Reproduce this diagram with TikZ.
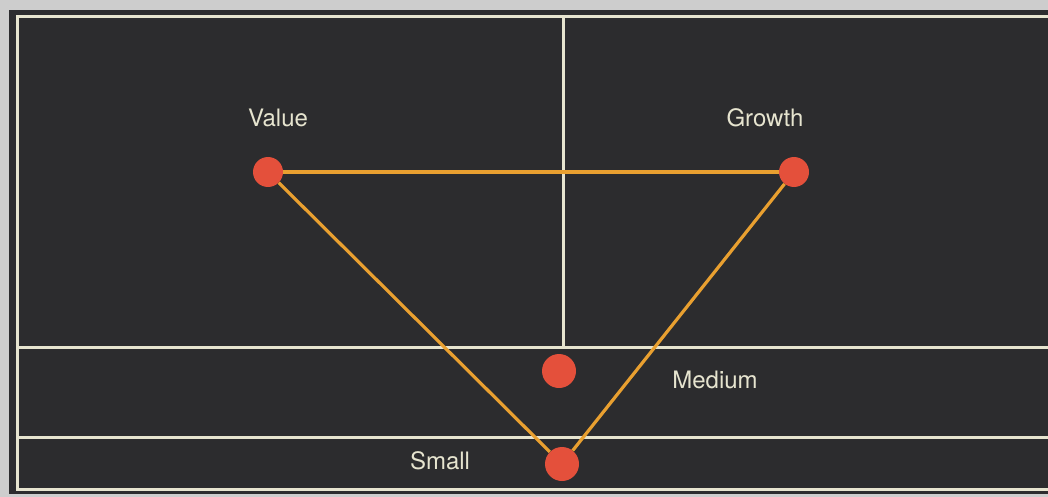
\documentclass[tikz,border=0pt]{standalone}
\usepackage{fontspec}
\setmainfont{TeX Gyre Heros}
\usepackage{xcolor}
\usetikzlibrary{positioning}

\definecolor{board}{HTML}{2C2C2E}
\definecolor{chalk}{HTML}{E6E4CF}
\definecolor{rim}{HTML}{CDCDCD}
\definecolor{dotred}{HTML}{E4503B}
\definecolor{linkorange}{HTML}{E9A030}

\begin{document}
\begin{tikzpicture}[x=1pt, y=-1pt,
    grid/.style={draw=chalk, line width=3pt},
    dot/.style={circle, fill=dotred, inner sep=0pt, minimum size=#1},
    dot/.default=30pt,
    lbl/.style={text=chalk, font=\fontsize{24}{27}\selectfont},
    link/.style={draw=linkorange, line width=3.2pt}
]
\useasboundingbox (0,0) rectangle (1048,497);
% board and grey rim
\fill[rim] (0,0) rectangle (1048,497);
\fill[board] (9,10) rectangle (1048,494);
% chalk frame
\draw[grid] (1048,17) -- (17,17) -- (17,489) -- (1048,489);
\draw[grid] (17,347) -- (1048,347);
\draw[grid] (17,437) -- (1048,437);
\draw[grid] (563,17) -- (563,346);

\node[dot] (value) at (268,172) {};
\node[dot] (growth) at (794,172) {};
\node[dot=34pt] (medium) at (559,371) {};
\node[dot=34pt] (small) at (562,464) {};

\draw[link] (value) -- (growth);
\draw[link] (growth) -- (small);
\draw[link] (small) -- (value);

\node[lbl] (valuetxt) at (278,118) {Value};
\node[lbl] (growthtxt) at (765,118) {Growth};
\node[lbl] (mediumtxt) at (715,380) {Medium};
\node[lbl] (smalltxt) at (440,461) {Small};
\end{tikzpicture}
\end{document}
